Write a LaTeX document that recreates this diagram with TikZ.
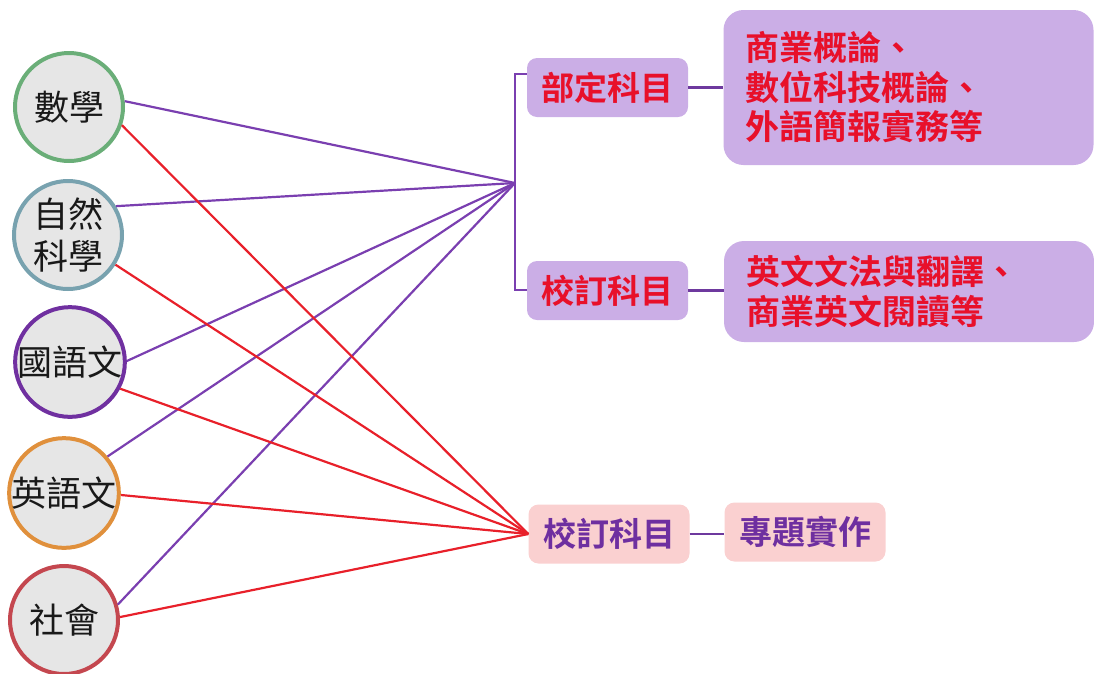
\documentclass[tikz,border=0pt]{standalone}
\usepackage{fontspec}
\setmainfont{Noto Sans CJK TC}[BoldFont={Noto Sans CJK TC Bold}]
\definecolor{cgreen}{HTML}{6AAE78}
\definecolor{cteal}{HTML}{78A2AF}
\definecolor{cpurple}{HTML}{7030A0}
\definecolor{corange}{HTML}{E0903C}
\definecolor{cred}{HTML}{C4474F}
\definecolor{cfill}{HTML}{E6E6E6}
\definecolor{lpurple}{HTML}{7A3FB0}
\definecolor{lred}{HTML}{E8202A}
\definecolor{lav}{HTML}{CBAEE6}
\definecolor{pinkbox}{HTML}{FAD0D0}
\definecolor{txred}{HTML}{E8102A}
\definecolor{txpurple}{HTML}{6E2FA0}
\tikzset{
  subj/.style={circle, draw=#1, line width=4pt, fill=cfill, minimum size=108pt, inner sep=0pt,
    align=center, text=black!90, font=\fontsize{35}{42}\selectfont},
  cat/.style={rounded corners=10pt, fill=#1, minimum width=161pt, minimum height=59pt,
    inner sep=0pt, font=\bfseries\fontsize{33}{38}\selectfont},
  detail/.style={rounded corners=20pt, fill=lav, inner xsep=22pt, inner ysep=0pt,
    text width=326pt, align=left, text=txred, font=\bfseries\fontsize{34}{39.5}\selectfont},
  pline/.style={draw=lpurple, line width=2.2pt},
  rline/.style={draw=lred, line width=2.2pt},
  link/.style={draw=lpurple!90!black, line width=2.8pt},
  brk/.style={draw=lpurple, line width=1.5pt},
}
\begin{document}
\begin{tikzpicture}[x=1pt,y=-1pt]
\useasboundingbox (0,0) rectangle (1094,673);
% circles
\node[subj=cgreen]  (math) at (69,107) {數學};
\node[subj=cteal]   (sci)  at (68,235) {自然\\科學};
\node[subj=cpurple] (chi)  at (70,362) {國語文};
\node[subj=corange] (eng)  at (64,493) {英語文};
\node[subj=cred]    (soc)  at (64,620) {社會};
% category boxes
\node[cat=lav, text=txred] (bd) at (607.5,87.5) {部定科目};
\node[cat=lav, text=txred] (xd1) at (607.5,290.5) {校訂科目};
\node[cat=pinkbox, text=txpurple] (xd2) at (609,534) {校訂科目};
% detail boxes
\node[detail, minimum height=155pt] (d1) at (908.5,87.5) {商業概論、\\數位科技概論、\\外語簡報實務等};
\node[detail, minimum height=101pt] (d2) at (909,291.5) {英文文法與翻譯、\\商業英文閱讀等};
\node[cat=pinkbox, text=txpurple] (d3) at (805,532) {專題實作};
% hub and bracket
\coordinate (hub) at (515,183);
\coordinate (bt) at (515,74);
\coordinate (bb) at (515,290);
\draw[brk] (bd.west |- bt) -- (bt) -- (bb) -- (xd1.west |- bb);
% connectors
\draw[link] (bd.east) -- (bd.east -| d1.west);
\draw[link] (xd1.east) -- (xd1.east -| d2.west);
\draw[link] (xd2.east) -- (xd2.east -| d3.west);
% purple lines
\draw[pline] (math.6) -- (hub);
\draw[pline] (sci.31) -- (hub);
\draw[pline] (chi.1) -- (hub);
\draw[pline] (eng.40) -- (hub);
\draw[pline] (soc.16) -- (hub);
% red lines
\draw[rline] (math.-19) -- (xd2.west);
\draw[rline] (sci.-32) -- (xd2.west);
\draw[rline] (chi.-28) -- (xd2.west);
\draw[rline] (eng.-2) -- (xd2.west);
\draw[rline] (soc.3) -- (xd2.west);
\end{tikzpicture}
\end{document}
